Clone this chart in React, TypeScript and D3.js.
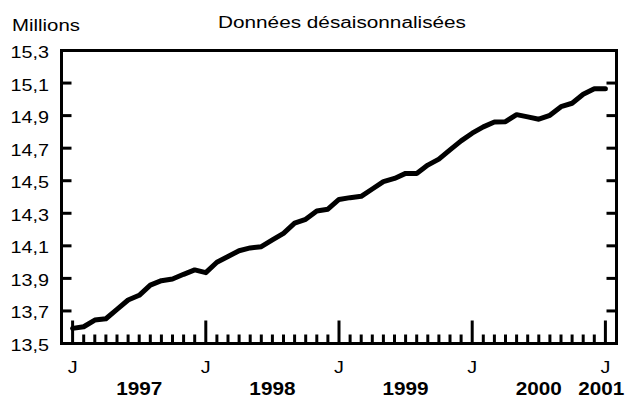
import React, { useRef, useEffect } from 'react';
import * as d3 from 'd3';

// monthly values, Jan 1997 .. Jan 2001 (millions)
const values = [
  13.593, 13.603, 13.644, 13.652, 13.71, 13.767, 13.796, 13.859, 13.886, 13.896, 13.925, 13.952,
  13.935, 13.999, 14.034, 14.07, 14.087, 14.095, 14.136, 14.177, 14.239, 14.263, 14.314, 14.325,
  14.385, 14.396, 14.404, 14.449, 14.494, 14.514, 14.545, 14.545, 14.596, 14.633, 14.69, 14.745,
  14.792, 14.831, 14.861, 14.863, 14.906, 14.892, 14.878, 14.902, 14.955, 14.976, 15.031, 15.065,
  15.065,
];
const yTicks = [13.5, 13.7, 13.9, 14.1, 14.3, 14.5, 14.7, 14.9, 15.1, 15.3];
const years = ['1997', '1998', '1999', '2000', '2001'];
const monthLabel = 'J';
const title = 'Données désaisonnalisées';
const unit = 'Millions';

const W = 630;
const H = 410;
const FONT = 'Arial, "Liberation Sans", sans-serif';

const App = () => {
  const svgRef = useRef<SVGSVGElement>(null);

  useEffect(() => {
    const svg = d3.select(svgRef.current);
    svg.selectAll('*').remove();

    const left = 61.5, right = 616.5, top = 50.5, bottom = 343.5;

    const x = d3.scaleLinear().domain([-1, values.length]).range([left, right]);
    const y = d3.scaleLinear().domain([13.5, 15.3]).range([bottom, top]);

    const fmt = (d: number) => d.toFixed(1).replace('.', ',');

    // frame
    svg.append('rect')
      .attr('x', left).attr('y', top)
      .attr('width', right - left).attr('height', bottom - top)
      .attr('fill', 'none').attr('stroke', '#000').attr('stroke-width', 3);

    // y ticks, both sides, pointing in
    yTicks.slice(1, -1).forEach(t => {
      svg.append('line')
        .attr('x1', left).attr('x2', left + 10)
        .attr('y1', y(t)).attr('y2', y(t))
        .attr('stroke', '#000').attr('stroke-width', 3);
      svg.append('line')
        .attr('x1', right).attr('x2', right - 10)
        .attr('y1', y(t)).attr('y2', y(t))
        .attr('stroke', '#000').attr('stroke-width', 3);
    });

    yTicks.forEach(t => {
      svg.append('text')
        .attr('transform', `translate(49,${y(t) + 7.5}) scale(1.2,1)`)
        .attr('text-anchor', 'end')
        .style('font-family', FONT)
        .style('font-size', '16.5px')
        .text(fmt(t));
    });

    // x ticks, monthly
    d3.range(0, values.length).forEach(m => {
      const major = m % 12 === 0;
      svg.append('line')
        .attr('x1', x(m)).attr('x2', x(m))
        .attr('y1', bottom).attr('y2', bottom - (major ? 23 : 9))
        .attr('stroke', '#000').attr('stroke-width', 3);
      if (major) {
        svg.append('text')
          .attr('transform', `translate(${x(m)},373) scale(1.2,1)`)
          .attr('text-anchor', 'middle')
          .style('font-family', FONT)
          .style('font-size', '16.5px')
          .text(monthLabel);
      }
    });

    years.forEach((yr, i) => {
      const last = i === years.length - 1;
      const cx = last ? x(i * 12) + 19 : x(i * 12 + 6);
      svg.append('text')
        .attr('transform', `translate(${cx},395) scale(1.12,1)`)
        .attr('text-anchor', last ? 'end' : 'middle')
        .style('font-family', FONT)
        .style('font-size', '18.5px')
        .style('font-weight', 'bold')
        .text(yr);
    });

    // line
    const line = d3.line<number>()
      .x((d, i) => x(i))
      .y(d => y(d));

    svg.append('path')
      .datum(values)
      .attr('fill', 'none')
      .attr('stroke', '#000')
      .attr('stroke-width', 5)
      .attr('stroke-linejoin', 'round')
      .attr('stroke-linecap', 'round')
      .attr('d', line);

    svg.append('text')
      .attr('transform', 'translate(12,31) scale(1.2,1)')
      .style('font-family', FONT)
      .style('font-size', '17px')
      .text(unit);

    svg.append('text')
      .attr('transform', 'translate(342,28) scale(1.2,1)')
      .attr('text-anchor', 'middle')
      .style('font-family', FONT)
      .style('font-size', '17.3px')
      .text(title);
  }, []);

  return (
    <div style={{ position: 'fixed', left: 0, top: 0, width: W, height: H, background: '#fff' }}>
      <svg ref={svgRef} width={W} height={H} style={{ display: 'block' }}></svg>
    </div>
  );
};

export default App;
